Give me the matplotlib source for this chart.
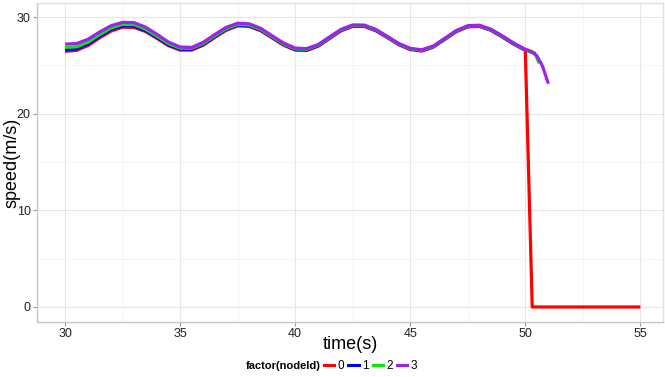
import matplotlib
matplotlib.use("Agg")
import matplotlib.pyplot as plt
from matplotlib.lines import Line2D

# ---------------- data ----------------
t_main = [30, 30.5, 31, 31.5, 32, 32.5, 33, 33.5, 34, 34.5, 35, 35.5, 36, 36.5, 37, 37.5,
          38, 38.5, 39, 39.5, 40, 40.5, 41, 41.5, 42, 42.5, 43, 43.5, 44, 44.5, 45, 45.5,
          46, 46.5, 47, 47.5, 48, 48.5, 49, 49.5, 50]

speed_node0 = [26.45, 26.55, 27.05, 27.85, 28.55, 28.95, 28.92, 28.50, 27.78, 27.03, 26.58, 26.58,
               27.08, 27.88, 28.63, 29.08, 29.03, 28.58, 27.83, 27.08, 26.58, 26.53, 26.98, 27.78,
               28.58, 29.03, 29.03, 28.58, 27.88, 27.13, 26.63, 26.48, 26.88, 27.68, 28.48, 28.98,
               29.03, 28.63, 27.93, 27.18, 26.55]
t_node0_tail = [50.3, 55]
speed_node0_tail = [0, 0]

speed_node1 = [26.60, 26.70, 27.20, 28.00, 28.70, 29.10, 29.07, 28.60, 27.88, 27.12, 26.67, 26.67,
               27.16, 27.96, 28.71, 29.16, 29.11, 28.65, 27.90, 27.15, 26.65, 26.60, 27.05, 27.85,
               28.64, 29.08, 29.08, 28.63, 27.93, 27.18, 26.68, 26.53, 26.92, 27.72, 28.52, 29.02,
               29.07, 28.67, 27.97, 27.22, 26.59]
t_node1_tail = [50.3, 50.45]
speed_node1_tail = [26.35, 26.20]

speed_node2 = [26.85, 26.93, 27.40, 28.18, 28.87, 29.25, 29.22, 28.75, 28.01, 27.24, 26.78, 26.77,
               27.25, 28.05, 28.79, 29.23, 29.18, 28.72, 27.96, 27.21, 26.71, 26.66, 27.10, 27.89,
               28.68, 29.12, 29.12, 28.67, 27.96, 27.21, 26.71, 26.56, 26.95, 27.75, 28.55, 29.05,
               29.10, 28.70, 28.00, 27.25, 26.61]
t_node2_tail = [50.3, 50.45, 50.6]
speed_node2_tail = [26.40, 26.05, 25.20]

speed_node3 = [27.20, 27.25, 27.70, 28.45, 29.10, 29.45, 29.42, 28.95, 28.20, 27.40, 26.90, 26.85,
               27.38, 28.18, 28.93, 29.36, 29.30, 28.83, 28.06, 27.30, 26.79, 26.73, 27.16, 27.95,
               28.74, 29.18, 29.17, 28.72, 28.01, 27.26, 26.76, 26.61, 27.00, 27.80, 28.60, 29.10,
               29.15, 28.75, 28.05, 27.30, 26.66]
t_node3_tail = [50.25, 50.5, 50.75, 51.0]
speed_node3_tail = [26.45, 26.00, 24.90, 23.10]

node_labels = ["0", "1", "2", "3"]
node_colors = ["#ff0000", "#0000ff", "#00ee00", "#a020f0"]

x_ticks = [30, 35, 40, 45, 50, 55]
y_ticks = [0, 10, 20, 30]

# ---------------- figure ----------------
plt.rcParams["font.family"] = ["Liberation Sans", "DejaVu Sans"]
fig = plt.figure(figsize=(6.65, 3.77), dpi=100)
ax = fig.add_axes([0.0556, 0.146, 0.942, 0.846])

lw = 2.3
series = [
    (t_main + t_node0_tail, speed_node0 + speed_node0_tail),
    (t_main + t_node1_tail, speed_node1 + speed_node1_tail),
    (t_main + t_node2_tail, speed_node2 + speed_node2_tail),
    (t_main + t_node3_tail, speed_node3 + speed_node3_tail),
]
for (tt, ss), c in zip(series, node_colors):
    ax.plot(tt, ss, color=c, lw=lw, solid_capstyle="butt", solid_joinstyle="round", zorder=3)

ax.set_xlim(28.78, 56.0)
ax.set_ylim(-1.55, 31.45)
ax.set_xticks(x_ticks)
ax.set_yticks(y_ticks)
ax.set_xticks([32.5, 37.5, 42.5, 47.5, 52.5], minor=True)
ax.set_yticks([5, 15, 25], minor=True)
ax.grid(which="major", color="#e6e6e6", lw=0.8)
ax.grid(which="minor", color="#f3f3f3", lw=0.6)
ax.set_axisbelow(True)

for s in ["left", "bottom"]:
    ax.spines[s].set_color("#c4c4c4")
    ax.spines[s].set_linewidth(1.0)
for s in ["top", "right"]:
    ax.spines[s].set_color("#e0e0e0")
    ax.spines[s].set_linewidth(1.0)

ax.tick_params(axis="both", which="major", length=3, width=0.8, color="#999999",
               labelsize=9, labelcolor="#222222", pad=1.5)
ax.tick_params(axis="both", which="minor", length=0)

ax.set_xlabel("time(s)", fontsize=13, labelpad=-3)
ax.set_ylabel("speed(m/s)", fontsize=13, va="center")
ax.yaxis.set_label_coords(-0.040, 0.5)

# legend at bottom
fig.text(0.369, 0.030, "factor(nodeId)", fontsize=8, fontweight="bold",
         ha="left", va="center")
handles = [Line2D([0], [0], color=c, lw=2.2) for c in node_colors]
fig.legend(handles, node_labels, loc="center left", bbox_to_anchor=(0.487, 0.030),
           ncol=4, frameon=False, fontsize=8.5, handlelength=0.9, handletextpad=0.25,
           columnspacing=0.35, borderpad=0, borderaxespad=0)

fig.savefig("out.png", dpi=100)
